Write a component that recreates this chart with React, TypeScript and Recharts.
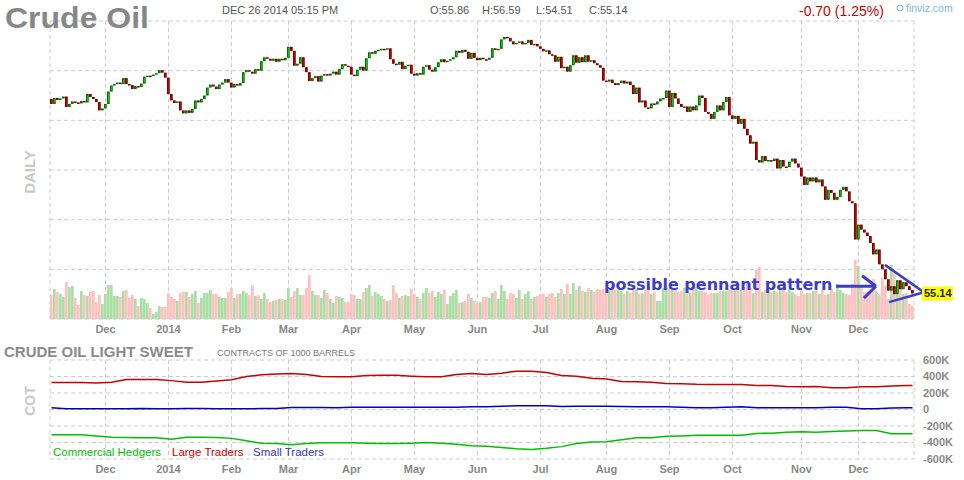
import React from 'react';
import { ComposedChart, Bar, Line, XAxis, YAxis, CartesianGrid, ReferenceLine, Cell } from 'recharts';

const FONT = '"Liberation Sans", Arial, sans-serif';

// ---- axis / calendar data ----
const monthLabels = ['Dec', '2014', 'Feb', 'Mar', 'Apr', 'May', 'Jun', 'Jul', 'Aug', 'Sep', 'Oct', 'Nov', 'Dec'];
// trading days shown per month, Nov 2013 (partial) .. Dec 2014
const monthDays = [18, 21, 21, 19, 21, 21, 21, 21, 22, 21, 21, 23, 19, 19];
const priceTicks = [50, 60, 70, 80, 90, 100, 110];
const cotTicks = [-600, -400, -200, 0, 200, 400, 600];

// ---- daily price data (USD) ----
const firstOpen = 94.3;
const closes = [
  93.3, 94.5, 94.1, 94.4, 94.8, 92.7, 93.3, 93.8, 93.6, 93.4,
  93.9, 93.6, 95.3, 94.7, 94.3, 93.7, 92.0, 92.4, 93.3, 95.8,
  97.0, 97.3, 97.6, 97.3, 98.5, 97.3, 97.1, 96.3, 96.9, 96.7,
  97.4, 98.8, 99.0, 98.9, 99.2, 99.5, 100.1, 99.6, 98.6, 95.3,
  94.0, 93.5, 93.8, 92.0, 91.4, 92.0, 91.5, 92.3, 94.0, 93.6,
  94.3, 95.0, 96.6, 97.2, 96.8, 96.3, 97.2, 97.6, 98.3, 97.6,
  96.6, 97.3, 97.0, 97.5, 99.7, 100.1, 99.8, 99.4, 100.3, 100.0,
  101.9, 102.7, 102.4, 102.0, 102.4, 101.8, 102.4, 102.1, 102.6, 104.8,
  104.0, 101.0, 101.4, 102.7, 100.7, 99.7, 97.9, 98.5, 98.9, 97.8,
  99.0, 99.3, 99.0, 99.4, 99.8, 99.2, 100.3, 101.3, 101.0, 100.8,
  99.2, 98.9, 100.2, 100.8, 100.0, 102.5, 103.7, 103.4, 104.0, 104.2,
  104.4, 104.3, 104.5, 102.3, 101.4, 101.2, 101.8, 100.3, 101.0, 101.2,
  99.4, 99.0, 99.5, 99.2, 100.8, 101.1, 100.2, 99.8, 100.7, 101.7,
  102.3, 101.7, 102.0, 102.3, 102.7, 104.0, 103.6, 104.2, 103.8, 102.4,
  103.6, 102.6, 102.1, 102.6, 102.3, 102.2, 102.6, 104.5, 104.2, 104.4,
  106.3, 106.8, 106.6, 105.9, 105.3, 105.6, 105.9, 105.3, 105.6, 106.2,
  105.2, 105.4, 104.9, 104.4, 103.9, 104.1, 103.3, 103.1, 101.8, 102.8,
  100.5, 100.8, 99.8, 101.1, 103.1, 101.6, 102.7, 101.7, 103.1, 101.8,
  102.1, 101.5, 101.1, 100.6, 98.0, 97.8, 98.2, 97.5, 97.1, 97.5,
  98.0, 97.4, 97.8, 97.1, 95.3, 96.6, 93.6, 94.0, 92.6, 92.4,
  93.4, 93.2, 93.8, 94.4, 94.5, 96.0, 92.7, 95.5, 94.4, 93.3,
  92.7, 92.8, 91.7, 92.8, 92.0, 93.0, 95.0, 94.5, 91.7, 91.3,
  90.3, 91.7, 93.0, 92.0, 93.7, 94.7, 91.0, 90.3, 90.9, 89.3,
  90.3, 88.3, 87.0, 85.3, 85.7, 82.0, 81.5, 82.8, 81.8, 82.0,
  81.8, 82.3, 80.3, 82.0, 80.7, 80.6, 81.7, 82.3, 81.3, 80.5,
  78.7, 77.0, 78.5, 77.7, 78.5, 77.5, 78.1, 76.7, 74.0, 76.0,
  75.4, 74.0, 74.6, 76.0, 76.6, 75.7, 73.7, 73.3, 66.0, 69.0,
  68.0, 67.4, 66.7, 65.3, 63.0, 64.0, 61.0, 60.0, 58.0, 55.7,
  56.6, 55.0, 57.8, 56.0, 57.4, 56.6, 55.84, 55.14,
];

// ---- daily volume (thousand contracts) ----
const volumes = [
  240, 300, 270, 250, 220, 370, 320, 330, 210, 140,
  280, 240, 230, 270, 280, 170, 240, 150, 250, 340,
  340, 230, 230, 220, 280, 290, 210, 240, 200, 130,
  210, 200, 160, 110, 50, 70, 130, 120, 120, 260,
  220, 200, 180, 260, 270, 270, 220, 250, 280, 160,
  210, 260, 260, 290, 250, 250, 220, 210, 210, 270,
  310, 210, 250, 250, 280, 260, 240, 340, 230, 240,
  200, 260, 200, 170, 180, 190, 200, 200, 190, 310,
  220, 280, 310, 240, 240, 310, 440, 280, 240, 240,
  210, 290, 260, 200, 160, 230, 220, 210, 170, 170,
  250, 240, 200, 200, 270, 310, 340, 230, 270, 250,
  230, 200, 180, 190, 340, 260, 210, 230, 240, 230,
  300, 250, 220, 200, 260, 310, 260, 280, 220, 270,
  250, 290, 150, 230, 260, 290, 160, 170, 180, 250,
  210, 180, 160, 170, 220, 220, 210, 260, 280, 200,
  340, 280, 200, 260, 250, 210, 290, 200, 250, 280,
  200, 220, 230, 250, 250, 220, 250, 260, 220, 260,
  300, 250, 350, 250, 360, 290, 330, 280, 270, 310,
  290, 270, 300, 290, 300, 290, 290, 340, 290, 290,
  280, 250, 280, 260, 300, 300, 250, 260, 290, 320,
  250, 270, 180, 180, 310, 320, 300, 290, 300, 270,
  280, 310, 280, 260, 320, 320, 280, 280, 270, 240,
  260, 260, 260, 280, 280, 280, 290, 310, 300, 290,
  290, 320, 360, 310, 260, 490, 520, 270, 290, 290,
  270, 280, 270, 320, 300, 270, 300, 270, 250, 230,
  280, 250, 260, 260, 280, 280, 250, 290, 240, 250,
  300, 270, 350, 290, 260, 250, 240, 350, 590, 530,
  320, 270, 250, 260, 400, 280, 250, 410, 330, 200,
  540, 450, 350, 350, 250, 260, 150, 130,
];

// ---- weekly COT net positions (thousand contracts) ----
const cotLarge = [
  327, 327, 327, 320, 330, 364, 364, 364, 350, 331,
  331, 345, 360, 400, 420, 430, 436, 425, 400, 396,
  396, 412, 416, 416, 404, 396, 396, 424, 436, 424,
  440, 464, 464, 448, 412, 404, 380, 370, 340, 335,
  330, 315, 312, 305, 303, 303, 303, 291, 291, 280,
  275, 280, 263, 263, 275, 275, 285, 291, 291,
];
const cotSmall = [
  20, 8, 8, 8, 8, 8, 12, 8, 8, 12,
  12, 8, 10, 8, 12, 12, 24, 24, 24, 20,
  28, 28, 28, 28, 28, 28, 28, 28, 32, 32,
  40, 44, 44, 44, 36, 40, 40, 40, 36, 32,
  32, 32, 28, 20, 20, 28, 32, 20, 20, 20,
  20, 20, 28, 28, 10, 8, 18, 20, 20,
];
const cotCommercial = [
  -307, -307, -307, -320, -335, -339, -343, -343, -360, -335,
  -335, -338, -350, -380, -410, -412, -428, -412, -404, -404,
  -404, -410, -412, -412, -408, -400, -410, -420, -440, -444,
  -460, -477, -485, -470, -450, -412, -395, -390, -368, -343,
  -343, -325, -320, -311, -311, -311, -311, -290, -287, -275,
  -271, -275, -267, -260, -255, -255, -295, -295, -295,
];

// ---- hand-drawn annotation (in data coordinates: day index, price) ----
const pennantLines = [
  [{ x: 278.3, y: 60.9 }, { x: 291.3, y: 55.4 }],
  [{ x: 279.7, y: 53.4 }, { x: 291.3, y: 55.4 }],
];
const arrowLines = [
  [{ x: 262, y: 56.6 }, { x: 275.3, y: 56.6 }],
  [{ x: 270.7, y: 58.7 }, { x: 275.3, y: 56.6 }],
  [{ x: 271.3, y: 54.2 }, { x: 275.3, y: 56.6 }],
];

// ---- derived tables ----
const totalDays = monthDays.reduce((a, b) => a + b, 0);
const monthTicks: number[] = [];
{
  let acc = 0;
  monthDays.slice(0, -1).forEach((d) => {
    acc += d;
    monthTicks.push(acc + 0.5);
  });
}
const gridXValues = [0, ...monthTicks, totalDays];
const fmtMonth = (v: number) => {
  const i = monthTicks.indexOf(v);
  return i >= 0 ? monthLabels[i] : '';
};

const candleData = closes.map((c, i) => {
  const o = i === 0 ? firstOpen : closes[i - 1];
  return {
    x: i + 0.5,
    open: o,
    close: c,
    body: [Math.min(o, c), Math.max(o, c)],
    up: c >= o,
    vol: volumes[i],
  };
});
const lastClose = closes[closes.length - 1];

const cotData = cotLarge.map((v, k) => ({
  x: Math.min(k * 5, totalDays - 1) + 0.5,
  large: v,
  small: cotSmall[k],
  commercial: cotCommercial[k],
}));

const GRID = '#cccccc';
const AXIS_TICK = { fill: '#888888', fontSize: 11, fontWeight: 'bold' as const, fontFamily: FONT };
const ANNOT = '#3d3dcc';

const Candle = (props: any) => {
  const { x, y, width, height, payload } = props;
  if (x == null || y == null || !payload) return null;
  const up = payload.up;
  const fill = up ? '#22dd22' : '#e00000';
  const stroke = up ? '#006e00' : '#7a0000';
  const top = height < 0 ? y + height : y;
  const h = Math.max(Math.abs(height), 1);
  return (
    <rect
      x={x + 0.5}
      y={top + 0.5}
      width={Math.max(width - 1, 1)}
      height={Math.max(h - 1, 0.5)}
      fill={fill}
      stroke={stroke}
      strokeWidth={1}
    />
  );
};

const PriceTag = (props: any) => {
  const vb = props.viewBox;
  if (!vb) return null;
  const x = vb.x + vb.width + 8;
  const y = vb.y;
  return (
    <g>
      <rect x={x} y={y - 7} width={31} height={14} fill="#ffff00" />
      <text x={x + 2} y={y + 4} fontSize={11} fontWeight="bold" fontFamily={FONT} fill="#222">
        {lastClose.toFixed(2)}
      </text>
    </g>
  );
};

export default function App() {
  return (
    <div style={{ position: 'absolute', left: 0, top: 0, width: 964, height: 480, background: '#ffffff', overflow: 'hidden' }}>
      {/* price panel background: vertical grid, axes, volume */}
      <div style={{ position: 'absolute', left: 0, top: 0 }}>
        <ComposedChart width={964} height={340} data={candleData} margin={{ top: 21, right: 0, bottom: 0, left: 50 }}>
          <CartesianGrid stroke={GRID} strokeDasharray="4 3" horizontal={false} verticalValues={gridXValues} />
          <XAxis
            type="number"
            dataKey="x"
            domain={[0, totalDays]}
            ticks={monthTicks}
            interval={0}
            tickFormatter={fmtMonth}
            axisLine={false}
            tickLine={false}
            tickSize={0}
            tickMargin={6}
            height={21}
            tick={AXIS_TICK}
          />
          <YAxis
            orientation="right"
            domain={[50, 110]}
            ticks={priceTicks}
            interval={0}
            tickFormatter={(v: number) => v.toFixed(2)}
            axisLine={false}
            tickLine={false}
            tickSize={0}
            tickMargin={11}
            width={50}
            tick={AXIS_TICK}
          />
          <YAxis yAxisId="vol" hide domain={[0, 2980]} />
          <Bar yAxisId="vol" dataKey="vol" barSize={3} isAnimationActive={false}>
            {candleData.map((d, i) => (
              <Cell key={i} fill={d.up ? '#a9dfa5' : '#ffc0c0'} />
            ))}
          </Bar>
        </ComposedChart>
      </div>

      {/* horizontal grid, candles + annotation */}
      <div style={{ position: 'absolute', left: 0, top: 0 }}>
        <ComposedChart width={964} height={340} data={candleData} margin={{ top: 21, right: 50, bottom: 21, left: 50 }}>
          <CartesianGrid stroke={GRID} strokeDasharray="4 3" vertical={false} horizontalValues={priceTicks} />
          <XAxis type="number" dataKey="x" domain={[0, totalDays]} hide />
          <YAxis type="number" domain={[50, 110]} ticks={priceTicks} interval={0} hide />
          <Bar dataKey="body" barSize={3} shape={<Candle />} isAnimationActive={false} />
          {pennantLines.map((seg, i) => (
            <ReferenceLine key={'p' + i} segment={seg} stroke={ANNOT} strokeWidth={2.5} ifOverflow="visible" />
          ))}
          {arrowLines.map((seg, i) => (
            <ReferenceLine key={'a' + i} segment={seg} stroke={ANNOT} strokeWidth={3} ifOverflow="visible" />
          ))}
          <ReferenceLine y={lastClose} stroke="none" ifOverflow="visible" label={<PriceTag />} />
        </ComposedChart>
      </div>

      {/* COT panel */}
      <div style={{ position: 'absolute', left: 0, top: 340 }}>
        <ComposedChart width={964} height={140} data={cotData} margin={{ top: 20, right: 0, bottom: 0, left: 50 }}>
          <CartesianGrid stroke={GRID} strokeDasharray="4 3" verticalValues={gridXValues} />
          <XAxis
            type="number"
            dataKey="x"
            domain={[0, totalDays]}
            ticks={monthTicks}
            interval={0}
            tickFormatter={fmtMonth}
            axisLine={false}
            tickLine={false}
            tickSize={0}
            tickMargin={6}
            height={21}
            tick={AXIS_TICK}
          />
          <YAxis
            orientation="right"
            domain={[-600, 600]}
            ticks={cotTicks}
            interval={0}
            tickFormatter={(v: number) => (v === 0 ? '0' : `${v}K`)}
            axisLine={false}
            tickLine={false}
            tickSize={0}
            tickMargin={9}
            width={50}
            tick={AXIS_TICK}
          />
          <Line type="linear" dataKey="large" stroke="#cc0000" strokeWidth={1.5} dot={false} isAnimationActive={false} />
          <Line type="linear" dataKey="small" stroke="#0000cc" strokeWidth={1.5} dot={false} isAnimationActive={false} />
          <Line type="linear" dataKey="commercial" stroke="#00c000" strokeWidth={1.5} dot={false} isAnimationActive={false} />
        </ComposedChart>
      </div>

      {/* static texts */}
      <svg width={964} height={480} style={{ position: 'absolute', left: 0, top: 0, pointerEvents: 'none' }}>
        <text x={5} y={28} fontSize={30} fontWeight="bold" fontFamily={FONT} fill="#878787" textLength={144} lengthAdjust="spacingAndGlyphs">Crude Oil</text>
        <text x={222} y={14} fontSize={11} fontFamily={FONT} fill="#555">DEC 26 2014 05:15 PM</text>
        <text x={430} y={14} fontSize={11} fontFamily={FONT} fill="#555">O:55.86</text>
        <text x={482} y={14} fontSize={11} fontFamily={FONT} fill="#555">H:56.59</text>
        <text x={536} y={14} fontSize={11} fontFamily={FONT} fill="#555">L:54.51</text>
        <text x={589} y={14} fontSize={11} fontFamily={FONT} fill="#555">C:55.14</text>
        <text x={799} y={16} fontSize={14} fontFamily={FONT} fill="#cc0000">-0.70 (1.25%)</text>
        <circle cx={900} cy={8} r={3} fill="none" stroke="#7cb4e8" strokeWidth={1} />
        <text x={906} y={12} fontSize={10.5} fontFamily={FONT} fill="#7cb4e8">finviz.com</text>
        <text x={35} y={172} transform="rotate(-90 35 172)" textAnchor="middle" fontSize={15} fontWeight="bold" fontFamily={FONT} fill="#c8c8c8">DAILY</text>
        <text x={35} y={401} transform="rotate(-90 35 401)" textAnchor="middle" fontSize={14} fontWeight="bold" fontFamily={FONT} fill="#c8c8c8">COT</text>
        <text x={4} y={357} fontSize={15} fontWeight="bold" fontFamily={FONT} fill="#8a8a8a">CRUDE OIL LIGHT SWEET</text>
        <text x={217} y={356} fontSize={9} fontFamily={FONT} fill="#777">CONTRACTS OF 1000 BARRELS</text>
        <text x={53} y={456} fontSize={11.5} fontFamily={FONT} fill="#00c000">Commercial Hedgers</text>
        <text x={172} y={456} fontSize={11.5} fontFamily={FONT} fill="#cc0000">Large Traders</text>
        <text x={253} y={456} fontSize={11.5} fontFamily={FONT} fill="#3333cc">Small Traders</text>
        <text x={604} y={290} fontSize={16} fontWeight="bold" fontFamily='"DejaVu Sans", sans-serif' fill={ANNOT}>possible pennant pattern</text>
      </svg>
    </div>
  );
}
